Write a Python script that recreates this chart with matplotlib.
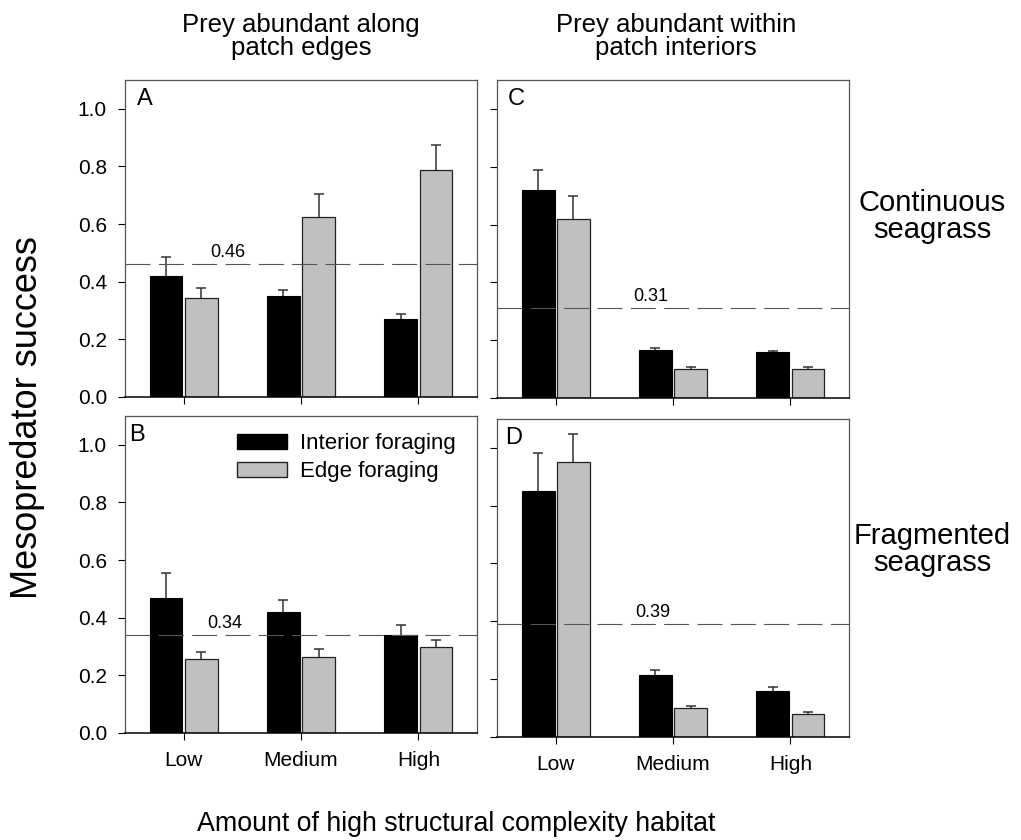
import numpy as np
import matplotlib
matplotlib.use("Agg")
import matplotlib.pyplot as plt
from matplotlib.patches import Patch

plt.rcParams['font.family'] = ['Liberation Sans', 'DejaVu Sans']
plt.rcParams['lines.scale_dashes'] = False

groups = ["Low", "Medium", "High"]

# mean success and upper SE, per panel: (interior, edge)
a_int = [0.42, 0.35, 0.27]
a_int_se = [0.065, 0.02, 0.018]
a_edge = [0.345, 0.625, 0.787]
a_edge_se = [0.032, 0.078, 0.087]
a_mean = 0.46

b_int = [0.47, 0.42, 0.341]
b_int_se = [0.085, 0.043, 0.035]
b_edge = [0.257, 0.262, 0.30]
b_edge_se = [0.023, 0.03, 0.022]
b_mean = 0.34

c_int = [0.72, 0.167, 0.158]
c_int_se = [0.07, 0.007, 0.006]
c_edge = [0.62, 0.10, 0.102]
c_edge_se = [0.077, 0.006, 0.006]
c_mean = 0.31

d_int = [0.85, 0.212, 0.158]
d_int_se = [0.132, 0.02, 0.013]
d_edge = [0.952, 0.10, 0.079]
d_edge_se = [0.097, 0.006, 0.005]
d_mean = 0.39

fig = plt.figure(figsize=(10.21, 8.4), dpi=100)

panels = [
    ("A", [0.1224, 0.5274, 0.3448, 0.3774], a_int, a_int_se, a_edge, a_edge_se, a_mean, True, False, 0.034, 0.23),
    ("B", [0.1224, 0.1274, 0.3448, 0.3774], b_int, b_int_se, b_edge, b_edge_se, b_mean, True, True, 0.012, 0.20),
    ("C", [0.4868, 0.5262, 0.3448, 0.3786], c_int, c_int_se, c_edge, c_edge_se, c_mean, False, False, 0.031, 0.66),
    ("D", [0.4868, 0.1230, 0.3448, 0.3782], d_int, d_int_se, d_edge, d_edge_se, d_mean, False, True, 0.023, 0.68),
]

x = np.arange(len(groups))
w = 0.28
err_kw = dict(ecolor='#333333', elinewidth=1.1, capsize=3.3, capthick=1.1)

for letter, pos, yi, ei, ye, ee, mean, ylab, xlab, lx, mx in panels:
    ax = fig.add_axes(pos)
    b1 = ax.bar(x - 0.15, yi, w, color='black', edgecolor='black', linewidth=0.8,
                yerr=[np.zeros(3), ei], error_kw=err_kw, label="Interior foraging", zorder=2)
    b2 = ax.bar(x + 0.15, ye, w, color='#c0c0c0', edgecolor='#222222', linewidth=0.9,
                yerr=[np.zeros(3), ee], error_kw=err_kw, label="Edge foraging", zorder=2)
    # only the upper caps are wanted
    for b in (b1, b2):
        b.errorbar.lines[1][0].set_visible(False)
    ax.axhline(mean, color='#555555', lw=0.8, dashes=(18, 6), zorder=3)
    ax.text(mx, mean + 0.012, f"{mean:.2f}", fontsize=13, ha='left', va='bottom')
    ax.set_xlim(-0.5, 2.5)
    ax.set_ylim(0, 1.1)
    ax.set_yticks(np.arange(0, 1.01, 0.2))
    ax.set_xticks(x)
    ax.tick_params(direction='out', length=5, width=0.8, labelsize=15, pad=8)
    if ylab:
        ax.set_yticklabels([f"{v:.1f}" for v in np.arange(0, 1.01, 0.2)])
    else:
        ax.set_yticklabels([])
    if xlab:
        ax.set_xticklabels(groups)
    else:
        ax.set_xticklabels([])
    for s in ['top', 'right', 'left']:
        ax.spines[s].set_color('#555555')
        ax.spines[s].set_linewidth(0.9)
    ax.spines['bottom'].set_color('black')
    ax.spines['bottom'].set_linewidth(1.1)
    ax.text(lx, 0.975, letter, transform=ax.transAxes, fontsize=17, ha='left', va='top')
    if letter == "B":
        handles = [Patch(facecolor='black', edgecolor='black', label="Interior foraging"),
                   Patch(facecolor='#c0c0c0', edgecolor='#222222', label="Edge foraging")]
        ax.legend(handles=handles, loc='upper left', bbox_to_anchor=(0.318, 0.945),
                  frameon=False, fontsize=16, borderpad=0, borderaxespad=0,
                  handlelength=2.25, handleheight=0.68, handletextpad=0.6,
                  labelspacing=0.3)

fig.text(0.295, 0.956, "Prey abundant along\npatch edges", fontsize=18.5,
         ha='center', va='center', linespacing=0.95)
fig.text(0.662, 0.956, "Prey abundant within\npatch interiors", fontsize=18.5,
         ha='center', va='center', linespacing=0.95)
fig.text(0.913, 0.742, "Continuous\nseagrass", fontsize=21,
         ha='center', va='center', linespacing=0.95)
fig.text(0.913, 0.346, "Fragmented\nseagrass", fontsize=21,
         ha='center', va='center', linespacing=0.95)
fig.text(0.027, 0.503, "Mesopredator success", fontsize=26, rotation=90,
         ha='center', va='center')
fig.text(0.447, 0.0107, "Amount of high structural complexity habitat", fontsize=19.3,
         ha='center', va='baseline')

fig.savefig("out.png", dpi=100)
